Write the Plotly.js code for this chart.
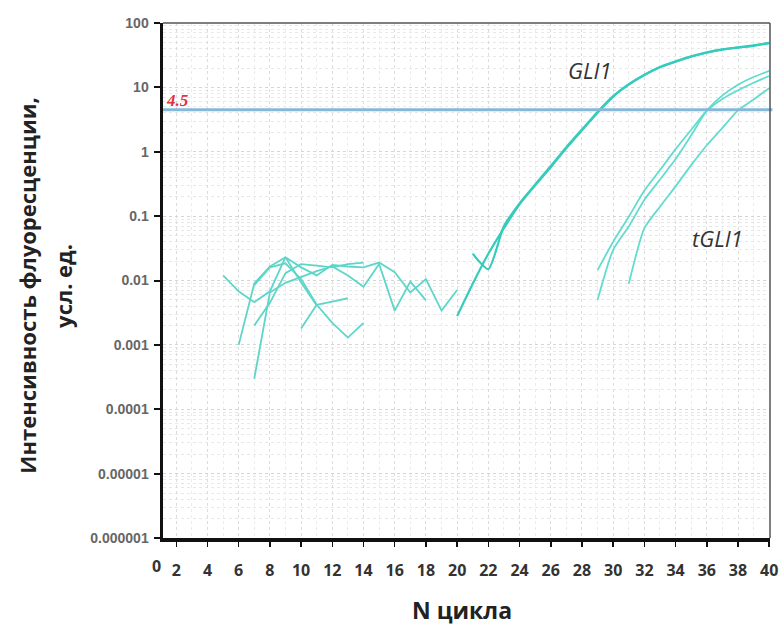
<!DOCTYPE html>
<html>
<head>
<meta charset="utf-8">
<script src="https://cdn.plot.ly/plotly-3.0.1.min.js"></script>
<style>
  html, body { margin: 0; padding: 0; background: #ffffff; }
  #chart { width: 782px; height: 628px; }
</style>
</head>
<body>
<div id="chart"></div>
<script>
// Amplification curves (fluorescence vs cycle), log scale
const gli1A_x = [20,21,22,23,24,25,26,27,28,29,30,31,32,33,34,35,36,37,38,39,40];
const gli1A_y = [0.0028,0.0089,0.026,0.065,0.152,0.30,0.575,1.14,2.16,4.05,7.2,11,15.5,20.5,25,30,34.5,38.5,41.4,44.2,48.4];
const gli1B_x = [21,22,23,24,25,26,27,28,29,30,31,32,33,34,35,36,37,38,39,40];
const gli1B_y = [0.026,0.015,0.07,0.158,0.31,0.6,1.18,2.22,4.15,7.3,11.2,15.7,20.8,25.4,30.4,35,39,42,45,49];

const tgliA_x = [29,30,31,32,33,34,35,36,37,38,39,40];
const tgliA_y = [0.0145,0.04,0.098,0.25,0.52,1.1,2.2,4.4,7.5,11,14.5,18];
const tgliB_x = [29,30,31,32,33,34,35,36,37,38,39,40];
const tgliB_y = [0.005,0.03,0.069,0.18,0.37,0.77,1.8,4.3,6.6,9.0,11.8,15];
const tgliC_x = [31,32,33,34,35,36,37,38,39,40];
const tgliC_y = [0.0089,0.065,0.14,0.29,0.62,1.26,2.35,4.4,6.5,9.7];

// Baseline noise segments
const noise1_x = [5,6,7,8,9,10,11];
const noise1_y = [0.012,0.0068,0.0046,0.0068,0.023,0.0093,0.0041];
const noise2_x = [6,7,8,9,10,11,12,13,14,15,16,17,18,19,20];
const noise2_y = [0.001,0.009,0.0165,0.023,0.016,0.012,0.0175,0.0165,0.016,0.019,0.0135,0.0065,0.0105,0.0034,0.0071];
const noise3_x = [7,8,9,10,11,12,13,14,15,16,17,18];
const noise3_y = [0.0003,0.0065,0.0092,0.0115,0.014,0.0165,0.012,0.008,0.018,0.0034,0.0096,0.0049];
const noise4_x = [7,8,9,10,11,12,13,14];
const noise4_y = [0.002,0.0045,0.013,0.018,0.017,0.016,0.018,0.019];
const noise5_x = [7,8,9,10,11,12,13,14];
const noise5_y = [0.0085,0.016,0.0185,0.0105,0.0042,0.0022,0.0013,0.0022];
const noise6_x = [10,11,12,13];
const noise6_y = [0.0018,0.0042,0.0047,0.0053];

const threshold = 4.5;

// Axis ticks
const xTickVals = [2,4,6,8,10,12,14,16,18,20,22,24,26,28,30,32,34,36,38,40];
const xTickText = ['2','4','6','8','10','12','14','16','18','20','22','24','26','28','30','32','34','36','38','40'];
const xZeroLabel = '0';
const yTickVals = [1e-6,1e-5,1e-4,1e-3,1e-2,1e-1,1,10,100];
const yTickText = ['0.000001','0.00001','0.0001','0.001','0.01','0.1','1','10','100'];

const noiseColor = '#5dd6c9';
const ampColor = '#35cbbd';
const tColor = '#62dccf';

function line(x, y, color, width, shape) {
  return {
    type: 'scatter', mode: 'lines', x: x, y: y,
    line: { color: color, width: width, shape: shape || 'linear', smoothing: 0.6 },
    hoverinfo: 'skip', showlegend: false
  };
}

const traces = [
  line(noise1_x, noise1_y, noiseColor, 1.8),
  line(noise2_x, noise2_y, noiseColor, 1.8),
  line(noise3_x, noise3_y, noiseColor, 1.8),
  line(noise4_x, noise4_y, noiseColor, 1.8),
  line(noise5_x, noise5_y, noiseColor, 1.8),
  line(noise6_x, noise6_y, noiseColor, 1.8),
  line(tgliA_x, tgliA_y, tColor, 1.8, 'spline'),
  line(tgliB_x, tgliB_y, tColor, 1.8, 'spline'),
  line(tgliC_x, tgliC_y, tColor, 1.8, 'spline'),
  line(gli1A_x, gli1A_y, ampColor, 2.2, 'spline'),
  line(gli1B_x, gli1B_y, ampColor, 2.2, 'spline')
];

const tickFontX = { family: 'Open Sans, Arial, sans-serif', size: 16, color: '#333', weight: 'bold' };

const layout = {
  width: 782, height: 628,
  margin: { l: 163, r: 12, t: 23, b: 90 },
  paper_bgcolor: '#ffffff', plot_bgcolor: '#ffffff',
  showlegend: false,
  xaxis: {
    range: [1.15, 40.05],
    tickmode: 'array', tickvals: xTickVals, ticktext: xTickText,
    ticks: 'outside', ticklen: 5, tickwidth: 1.5, tickcolor: '#111',
    tickfont: tickFontX, ticklabelstandoff: 10,
    showline: true, linecolor: '#111', linewidth: 3.5,
    showgrid: true, gridcolor: '#dcdcdc', griddash: 'dot', gridwidth: 1,
    minor: { dtick: 1, showgrid: true, gridcolor: '#ececec', griddash: 'dot', gridwidth: 1 },
    zeroline: false, fixedrange: true
  },
  yaxis: {
    type: 'log', range: [-6, 2],
    tickmode: 'array', tickvals: yTickVals, ticktext: yTickText,
    ticks: 'outside', ticklen: 6, tickwidth: 2, tickcolor: '#111',
    tickfont: { family: 'Liberation Sans, Arial, sans-serif', size: 14, color: '#666', weight: 'bold' },
    ticklabelstandoff: 2,
    showline: true, linecolor: '#111', linewidth: 3.5,
    showgrid: true, gridcolor: '#d6d6d6', griddash: 'dot', gridwidth: 1,
    minor: { dtick: 'D1', showgrid: true, gridcolor: '#e8e8e8', griddash: 'dot', gridwidth: 1 },
    zeroline: false, fixedrange: true
  },
  shapes: [
    // threshold
    { type: 'line', xref: 'paper', x0: 0, x1: 1.004, yref: 'y',
      y0: threshold, y1: threshold,
      line: { color: '#86b9d9', width: 3 } },
    // top and right frame
    { type: 'line', xref: 'paper', yref: 'paper', x0: 0, x1: 1, y0: 1, y1: 1,
      line: { color: '#555', width: 1.5 } },
    { type: 'line', xref: 'paper', yref: 'paper', x0: 1, x1: 1, y0: 0, y1: 1,
      line: { color: '#555', width: 1.5 } }
  ],
  annotations: [
    { xref: 'paper', yref: 'y', x: 0.002, y: Math.log10(threshold), xanchor: 'left', yanchor: 'bottom',
      yshift: -2, text: String(threshold), showarrow: false,
      font: { family: 'Liberation Serif, Times New Roman, serif', size: 17, color: '#d9373f', weight: 'bold', style: 'italic' } },
    { xref: 'x', yref: 'y', x: 28.5, y: Math.log10(18.4), text: 'GLI1', showarrow: false,
      font: { family: 'Open Sans, Arial, sans-serif', size: 22, color: '#333', style: 'italic' } },
    { xref: 'x', yref: 'y', x: 36.7, y: Math.log10(0.045), text: 'tGLI1', showarrow: false,
      font: { family: 'Open Sans, Arial, sans-serif', size: 22, color: '#333', style: 'italic' } },
    { xref: 'paper', yref: 'paper', x: -0.0115, y: 0, yshift: -28, xanchor: 'center', yanchor: 'middle',
      text: xZeroLabel, showarrow: false, font: tickFontX },
    { xref: 'paper', yref: 'paper', x: 0.493, y: -0.14, xanchor: 'center', yanchor: 'middle',
      text: 'N цикла', showarrow: false,
      font: { family: 'Open Sans, Arial, sans-serif', size: 23, color: '#222', weight: 'bold' } },
    { xref: 'paper', yref: 'paper', x: -0.224, y: 0.49, xanchor: 'center', yanchor: 'middle',
      textangle: -90, text: 'Интенсивность флуоресценции,', showarrow: false,
      font: { family: 'Open Sans, Arial, sans-serif', size: 22, color: '#222', weight: 'bold' } },
    { xref: 'paper', yref: 'paper', x: -0.166, y: 0.49, xanchor: 'center', yanchor: 'middle',
      textangle: -90, text: 'усл. ед.', showarrow: false,
      font: { family: 'Open Sans, Arial, sans-serif', size: 22, color: '#222', weight: 'bold' } }
  ]
};

Plotly.newPlot('chart', traces, layout, { displayModeBar: false, staticPlot: true });
</script>
</body>
</html>
